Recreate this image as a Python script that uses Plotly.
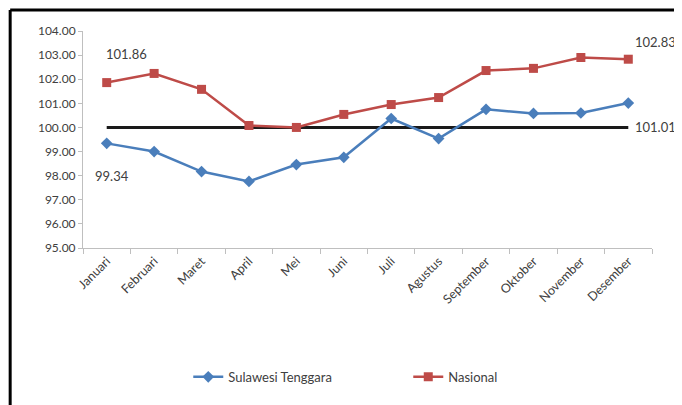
import plotly.graph_objects as go

months = ["Januari", "Februari", "Maret", "April", "Mei", "Juni", "Juli",
          "Agustus", "September", "Oktober", "November", "Desember"]
sultra = [99.34, 99.00, 98.17, 97.76, 98.46, 98.76, 100.37, 99.54, 100.75, 100.58, 100.60, 101.01]
nasional = [101.86, 102.24, 101.58, 100.08, 100.00, 100.54, 100.95, 101.24, 102.36, 102.45, 102.90, 102.83]
baseline = [100.0] * 12
yticks = [95, 96, 97, 98, 99, 100, 101, 102, 103, 104]

FONT = "Lato"
TXT = "#404040"

fig = go.Figure()
fig.add_trace(go.Scatter(x=months, y=baseline, mode="lines",
                         line=dict(color="#1a1a1a", width=3), showlegend=False, hoverinfo="skip"))
fig.add_trace(go.Scatter(x=months, y=sultra, mode="lines+markers", name="Sulawesi Tenggara",
                         line=dict(color="#4a7ebb", width=2.5),
                         marker=dict(symbol="diamond", size=9, color="#4a7ebb")))
fig.add_trace(go.Scatter(x=months, y=nasional, mode="lines+markers", name="Nasional",
                         line=dict(color="#be4b48", width=2.5),
                         marker=dict(symbol="square", size=9, color="#be4b48")))

ann = [
    (0, nasional[0], 20, 29),
    (0, sultra[0], 5, -33),
    (11, nasional[11], 27, 17),
    (11, sultra[11], 27, -24),
]
for i, v, xs, ys in ann:
    fig.add_annotation(x=months[i], y=v, text=f"{v:.2f}", showarrow=False,
                       xshift=xs, yshift=ys, font=dict(family=FONT, size=13, color=TXT))

fig.update_layout(
    width=674, height=397,
    margin=dict(l=75, r=30, t=23, b=157),
    paper_bgcolor="white", plot_bgcolor="white",
    font=dict(family=FONT, size=12, color=TXT),
    legend=dict(orientation="h", x=0.185, xanchor="left", y=-0.594, yanchor="middle",
                entrywidth=175, entrywidthmode="pixels",
                font=dict(family=FONT, size=13, color=TXT)),
    xaxis=dict(type="category", range=[-0.5, 11.5], tickangle=-45,
               showline=True, linecolor="#bfbfbf", linewidth=1,
               ticks="outside", tickson="boundaries", ticklen=5, tickcolor="#bfbfbf",
               showgrid=False, tickfont=dict(family=FONT, size=12.5, color=TXT)),
    yaxis=dict(range=[95, 104], tickvals=yticks, ticktext=[f"{t:.2f}" for t in yticks],
               showline=True, linecolor="#bfbfbf", linewidth=1,
               ticks="outside", ticklen=4, tickcolor="#bfbfbf",
               showgrid=False, zeroline=False,
               tickfont=dict(family=FONT, size=12, color=TXT)),
    shapes=[
        dict(type="line", xref="paper", yref="paper", x0=-0.128, x1=1.06, y0=1.097, y1=1.097,
             line=dict(color="black", width=3)),
        dict(type="line", xref="paper", yref="paper", x0=-0.128, x1=-0.128, y0=1.097, y1=-0.73,
             line=dict(color="black", width=3)),
    ],
)

fig.write_html("out.html")
